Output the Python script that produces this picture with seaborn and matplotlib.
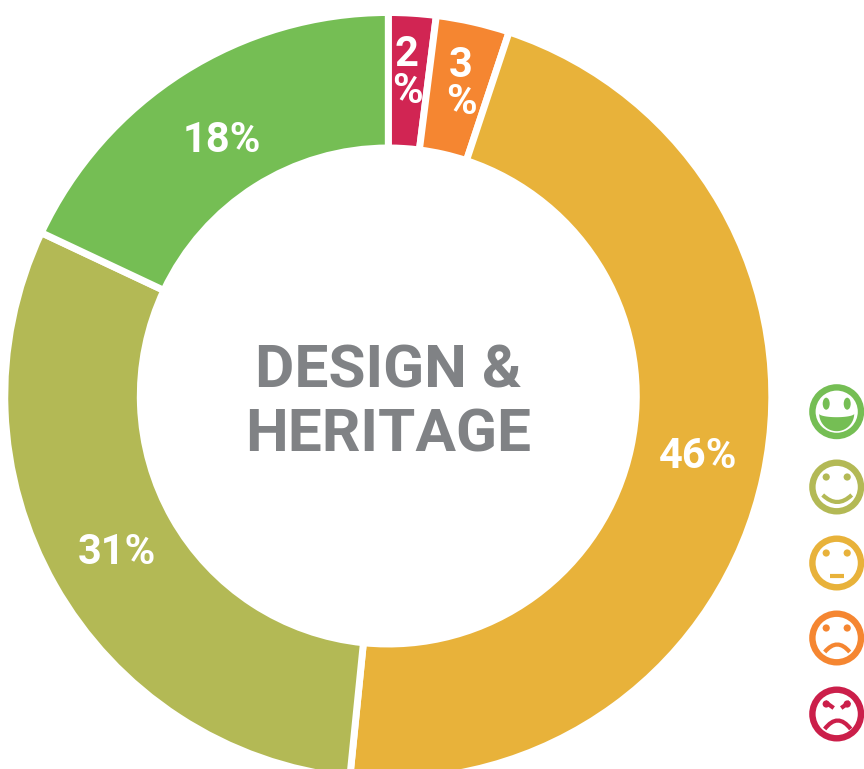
import matplotlib
matplotlib.use("Agg")
import matplotlib.pyplot as plt
from matplotlib.patches import Circle, Ellipse, PathPatch, Polygon
from matplotlib.path import Path
import seaborn as sns
import numpy as np

sns.set_theme(style="white")
plt.rcParams['font.family'] = ['Roboto', 'DejaVu Sans']

# Data
categories = ["Very unhappy", "Unhappy", "Neutral", "Happy", "Very happy"]
shares = [2.0, 3.1, 46.5, 30.4, 18.0]          # wedge sizes
share_labels = ["2\n%", "3\n%", "46%", "31%", "18%"]
colors = ["#D12553", "#F58631", "#E8B23A", "#B3B955", "#75BE54"]
icon_colors = ["#75BE54", "#B3B955", "#E8B23A", "#F58631", "#CB1F4A"]
title_lines = ["DESIGN &", "HERITAGE"]

W, H = 864, 769
fig = plt.figure(figsize=(W / 100, H / 100), dpi=100, facecolor="white")
ax = fig.add_axes([0, 0, 1, 1])

CX, CY, R = 388.3, H - 396, 383.5
wedges, _ = ax.pie(
    shares, colors=sns.color_palette(colors), startangle=90, counterclock=False,
    center=(CX, CY), radius=R,
    wedgeprops=dict(width=135.5, edgecolor="white", linewidth=5),
)
ax.set_xlim(0, W)
ax.set_ylim(0, H)
ax.set_aspect("equal")
ax.axis("off")

label_pos = [(407, 73), (461, 84), (698, 457), (117, 553), (222, 141)]
for lab, (x, y) in zip(share_labels, label_pos):
    ax.text(x, H - y, lab, color="white", fontsize=30, fontweight="bold",
            ha="center", va="center", linespacing=0.88)

for line, y in zip(title_lines, (371, 435)):
    ax.text(388, H - y, line, color="#808285", fontsize=43.5, fontweight="bold",
            ha="center", va="center")


def curve(cx, cy, x0, x1, y_end, y_mid, col, lw=4.2):
    # quadratic stroke in icon-local pixels, y downward
    ctrl = 2 * y_mid - y_end
    p = Path([(cx + x0, cy - y_end), (cx + (x0 + x1) / 2, cy - ctrl), (cx + x1, cy - y_end)],
             [Path.MOVETO, Path.CURVE3, Path.CURVE3])
    ax.add_patch(PathPatch(p, fc="none", ec=col, lw=lw * 0.72, capstyle="butt"))


def icon(kind, cx, y, col):
    cy = H - y
    ax.add_patch(Circle((cx, cy), 24.3, fc="white", ec=col, lw=6.4 * 0.72))
    if kind == 0:
        for s in (-1, 1):
            ax.add_patch(Ellipse((cx + s * 10.5, cy + 8), 7, 12, fc=col, ec="none", zorder=3))
        t = np.linspace(0, np.pi, 40)
        lower = np.c_[cx + 17.5 * np.cos(t), cy - 2 - 17.5 * np.sin(t)]
        upper = np.c_[cx - 17.5 * np.cos(t), cy - 2 - 3.5 * np.sin(t)]
        ax.add_patch(Polygon(np.r_[lower, upper], fc=col, ec="none", zorder=3))
    else:
        ey = 10
        for s in (-1, 1):
            ax.add_patch(Circle((cx + s * 10.5, cy + ey), 3.6, fc=col, ec="none", zorder=3))
    if kind == 1:
        curve(cx, cy, -14, 15, 8, 15, col)
    elif kind == 2:
        ax.plot([cx - 6.7, cx + 7.6], [cy - 12.7, cy - 12.7], color=col, lw=3, solid_capstyle="butt")
    elif kind == 3:
        curve(cx, cy, -12, 13, 14, 6.5, col)
    elif kind == 4:
        curve(cx, cy, -12, 14, 15, 6.5, col)
        ax.plot([cx - 11.5, cx - 3], [cy + 12, cy + 6], color=col, lw=3, solid_capstyle="butt")
        ax.plot([cx + 13, cx + 4.5], [cy + 12, cy + 6], color=col, lw=3, solid_capstyle="butt")


icon_y = [411.7, 487, 563, 638, 714]
for k, (y, c) in enumerate(zip(icon_y, icon_colors)):
    icon(k, 836.7, y, c)

fig.savefig("out.png", dpi=100, facecolor="white")
